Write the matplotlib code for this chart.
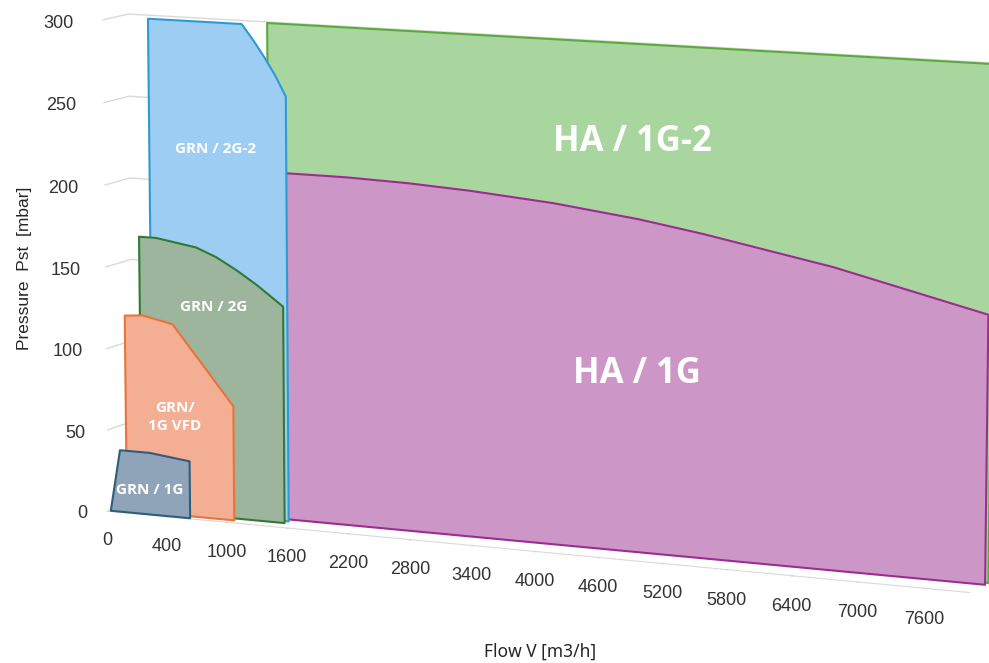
import numpy as np
import matplotlib
matplotlib.use("Agg")
import matplotlib.pyplot as plt
from mpl_toolkits.mplot3d.art3d import Poly3DCollection

plt.rcParams['font.family'] = ['Liberation Sans', 'DejaVu Sans']
plt.rcParams['grid.color'] = '#d9d9d9'
plt.rcParams['grid.linewidth'] = 1.0

# flow categories (m3/h), one label every third category
categories = [0, 100, 200] + list(range(400, 8001, 200))
pressure_ticks = [0, 50, 100, 150, 200, 250, 300]

# operating ranges: flow (m3/h) and pressure (mbar) along the outline
grn_1g_flow = [0, 50, 200, 400, 600, 600]
grn_1g_p = [0, 38, 38, 36.5, 35, 0]

grn_vfd_flow = [60, 60, 150, 400, 1000, 1000]
grn_vfd_p = [0, 120, 121, 117, 70, 0]

grn_2g_flow = [115, 115, 200, 400, 600, 800, 1000, 1200, 1460, 1460]
grn_2g_p = [0, 168, 168, 166, 164, 159, 152, 144, 132, 0]

grn_2g2_flow = [150, 150, 1030, 1140, 1250, 1360, 1460, 1460]
grn_2g2_p = [0, 300, 300, 291, 281, 270, 258, 0]

ha_1g_flow = [1400, 1400, 2000, 2600, 3200, 4000, 4800, 5400, 6000, 6600, 7200, 8000, 8000]
ha_1g_p = [0, 211, 211, 210, 208, 204, 198, 192, 185, 178, 169, 157, 0]

ha_1g2_flow = [1200, 1200, 8000, 8000]
ha_1g2_p = [0, 300, 300, 0]

# back to front: (name, flow, pressure, fill, edge, label pos (flow, p), font size)
series = [
    ("HA / 1G-2", ha_1g2_flow, ha_1g2_p, '#a9d69f', '#5aaa3c', (4715, 242), 25),
    ("HA / 1G", ha_1g_flow, ha_1g_p, '#cc97c7', '#9b2d91', (4790, 106), 25),
    ("GRN / 2G-2", grn_2g2_flow, grn_2g2_p, '#9dcdf2', '#2e9bd0', (770, 223.5), 11),
    ("GRN / 2G", grn_2g_flow, grn_2g_p, '#9db59c', '#2f7a34', (780, 128), 11),
    ("GRN/\n1G VFD", grn_vfd_flow, grn_vfd_p, '#f4ae94', '#e8743b', (420, 60), 11),
    ("GRN / 1G", grn_1g_flow, grn_1g_p, '#8fa4b8', '#2f5d7c', (200, 15), 11),
]

cat_idx = np.arange(len(categories))


def flow_to_idx(flow):
    return np.interp(flow, categories, cat_idx)


fig = plt.figure(figsize=(9.89, 6.63), dpi=100)
ax = fig.add_axes([-0.0441, -0.320, 1.1426, 1.7044], projection='3d')
ax.set_proj_type('persp', focal_length=1.0)
ax.view_init(elev=9.5, azim=-65.4)
ax.set_box_aspect((925, 54, 498), zoom=0.928)
ax.computed_zorder = False

n_rows = len(series)
for k, (name, flow, p, fc, ec, lab, fs) in enumerate(series):
    depth = n_rows - k - 0.5
    xs = flow_to_idx(flow)
    verts = [list(zip(xs, np.full(len(xs), depth), p))]
    poly = Poly3DCollection(verts, facecolor=fc, edgecolor=ec, linewidths=1.5, zorder=k + 1)
    ax.add_collection3d(poly)
    ax.text(flow_to_idx(lab[0]), depth, lab[1], name, color='white', fontsize=fs,
            fontweight='bold', family='Open Sans', ha='center', va='center',
            zorder=20 + k, linespacing=1.3)

ax.set_xlim(0, len(categories) - 1)
ax.set_ylim(0, n_rows)
ax.set_zlim(0, 300)

ax.set_xticks(cat_idx[::3])
ax.set_xticklabels([str(c) for c in categories[::3]])
ax.set_yticks([])
ax.set_zticks(pressure_ticks)
ax.tick_params(axis='x', labelsize=13, labelcolor='#333333', color='#d0d0d0', pad=10)
ax.zaxis.set_tick_params(labelleft=False, color=(0, 0, 0, 0))

# pressure labels along the front left edge (edge leans out towards the top)
for val in pressure_ticks:
    ax.text(-1.05 - 0.4 * val / 300, 0, val - 3, str(val), ha='right', va='center',
            fontsize=13, color='#333333', zorder=30)

for axis in (ax.xaxis, ax.yaxis, ax.zaxis):
    axis.set_pane_color((1, 1, 1, 0))
    axis.label.set_visible(False)
    axis.get_offset_text().set_visible(False)
ax.xaxis.line.set_color('#d9d9d9')
ax.yaxis.line.set_color((0, 0, 0, 0))
ax.zaxis.line.set_color((0, 0, 0, 0))
ax.xaxis._axinfo['tick']['inward_factor'] = 0.5
ax.xaxis._axinfo['tick']['outward_factor'] = 0.0
ax.grid(True)
ax.xaxis.gridlines.set_visible(False)

fig.text(0.025, 0.595, "Pressure  Pst  [mbar]", rotation=90, ha='center', va='center',
         fontsize=12.5, color='#262626')
fig.text(0.546, 0.017, "Flow V [m3/h]", ha='center', va='center', fontsize=12.5,
         color='#262626', family='Noto Sans')

fig.savefig("out.png", dpi=100)
